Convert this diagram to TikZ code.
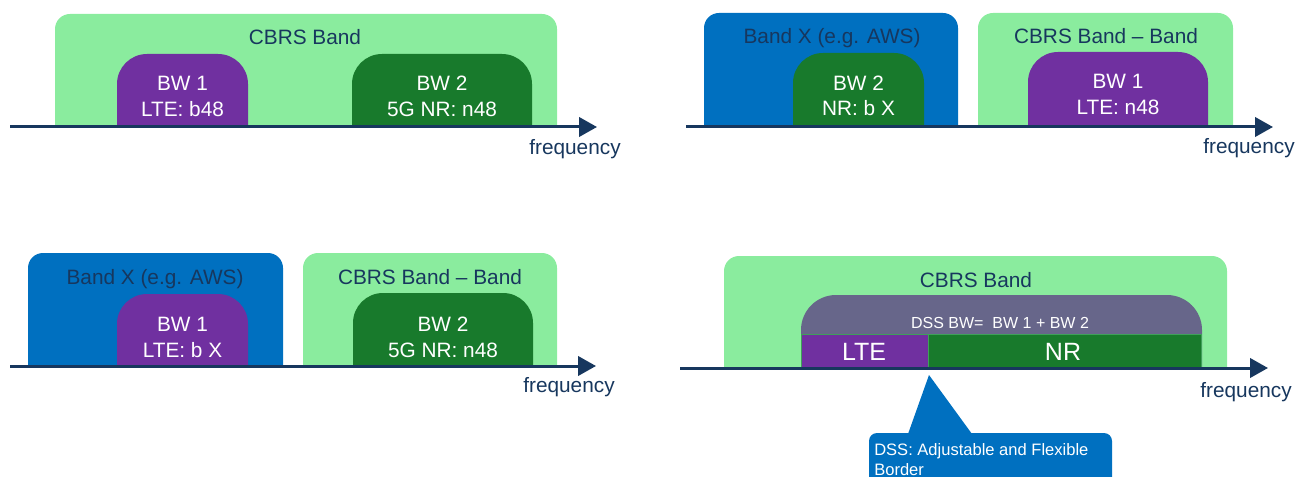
\documentclass[tikz,border=0pt]{standalone}
\usepackage{fontspec}
\setmainfont{Liberation Sans}
\usetikzlibrary{arrows.meta}
\definecolor{lgreen}{HTML}{8AEC9E}
\definecolor{bandblue}{HTML}{0070C0}
\definecolor{lpurple}{HTML}{7030A0}
\definecolor{dgreen}{HTML}{187A2C}
\definecolor{navy}{HTML}{17375E}
\definecolor{dssgray}{HTML}{67668A}
\definecolor{edgegreen}{HTML}{3FA05A}
\begin{document}
\begin{tikzpicture}[x=0.75pt,y=-0.75pt,
  lbl/.style={inner sep=0pt, anchor=base, font=\fontsize{15.6}{18}\selectfont, text=navy},
  wlbl/.style={lbl, text=white},
  small/.style={inner sep=0pt, anchor=base, font=\fontsize{12}{14}\selectfont, text=white},
  callfont/.style={inner sep=0pt, anchor=base west, font=\fontsize{12.4}{14}\selectfont, text=white},
  big/.style={inner sep=0pt, anchor=base, font=\fontsize{18.75}{22}\selectfont, text=white},
  axisline/.style={draw=navy, line width=2.25pt, -{Triangle[length=13.5pt,width=14.5pt]}},
  outerbox/.style={rounded corners=11.25pt},
  innerbox/.style={rounded corners=22.5pt}]
\useasboundingbox (0,0) rectangle (1298,477);

% ---------- top-left ----------
\fill[lgreen, outerbox] (55,127) -- (55,14) -- (557,14) -- (557,127);
\fill[lpurple, innerbox] (117,127) -- (117,54) -- (248,54) -- (248,127);
\fill[dgreen, innerbox] (352,127) -- (352,54) -- (532,54) -- (532,127);
\node[lbl] (tlcbrs) at (305,45) {CBRS Band};
\node[wlbl] (tlbw1a) at (182.5,91) {BW 1};
\node[wlbl] (tlbw1b) at (182.5,117) {LTE: b48};
\node[wlbl] (tlbw2a) at (442,91) {BW 2};
\node[wlbl] (tlbw2b) at (442,117) {5G NR: n48};
\coordinate (tls) at (10,127);
\coordinate (tle) at (597,127);
\draw[axisline] (tls) -- (tle);
\node[lbl] (tlfreq) at (575,155) {frequency};

% ---------- top-right ----------
\fill[bandblue, outerbox] (704,127) -- (704,13) -- (958,13) -- (958,127);
\fill[dgreen, innerbox] (793,127) -- (793,53) -- (924,53) -- (924,127);
\fill[lgreen, outerbox] (978,127) -- (978,13) -- (1233,13) -- (1233,127);
\fill[lpurple, innerbox] (1028,127) -- (1028,52) -- (1208,52) -- (1208,127);
\node[lbl] (trbandx) at (832,44) {Band X (e.g. AWS)};
\node[wlbl] (trbw2a) at (858.5,91) {BW 2};
\node[wlbl] (trbw2b) at (858.5,116) {NR: b X};
\node[lbl] (trcbrs) at (1106,44) {CBRS Band -- Band};
\node[wlbl] (trbw1a) at (1118,89) {BW 1};
\node[wlbl] (trbw1b) at (1118,115) {LTE: n48};
\coordinate (trs) at (686,127);
\coordinate (tre) at (1273,127);
\draw[axisline] (trs) -- (tre);
\node[lbl] (trfreq) at (1249,154) {frequency};

% ---------- bottom-left ----------
\fill[bandblue, outerbox] (28,366) -- (28,253) -- (283,253) -- (283,366);
\fill[lpurple, innerbox] (117,366) -- (117,294) -- (248,294) -- (248,366);
\fill[lgreen, outerbox] (303,366) -- (303,253) -- (557,253) -- (557,366);
\fill[dgreen, innerbox] (353,366) -- (353,293) -- (533,293) -- (533,366);
\node[lbl] (blbandx) at (155,284) {Band X (e.g. AWS)};
\node[wlbl] (blbw1a) at (182.5,331) {BW 1};
\node[wlbl] (blbw1b) at (182.5,357) {LTE: b X};
\node[lbl] (blcbrs) at (430,284) {CBRS Band -- Band};
\node[wlbl] (blbw2a) at (443,331) {BW 2};
\node[wlbl] (blbw2b) at (443,357) {5G NR: n48};
\coordinate (bls) at (10,366);
\coordinate (ble) at (596,366);
\draw[axisline] (bls) -- (ble);
\node[lbl] (blfreq) at (569,392) {frequency};

% ---------- bottom-right ----------
\fill[lgreen, outerbox] (724,368) -- (724,256) -- (1227,256) -- (1227,368);
\fill[dssgray, rounded corners=26.25pt] (801,368) -- (801,295) -- (1202,295) -- (1202,368);
\filldraw[fill=lpurple, draw=edgegreen, line width=0.6pt] (801,334) rectangle (928,368);
\filldraw[fill=dgreen, draw=edgegreen, line width=0.6pt] (928,334) rectangle (1201,368);
\node[lbl] (brcbrs) at (976,287) {CBRS Band};
\node[small] (brdss) at (1000,328) {DSS BW=\ \ BW 1 + BW 2};
\node[big] (brlte) at (864,360) {LTE};
\node[big] (brnr) at (1063,360) {NR};
\coordinate (brs) at (680,368);
\coordinate (bre) at (1268,368);
\draw[axisline] (brs) -- (bre);
\node[lbl] (brfreq) at (1246,397) {frequency};

% callout
\coordinate (tip) at (929,375);
\fill[bandblue] (908,434) -- (tip) -- (972,434) -- cycle;
\fill[bandblue, rounded corners=6pt] (869,477) -- (869,433) -- (1112,433) -- (1112,477);
\node[callfont] (call1) at (874,455) {DSS: Adjustable\ and\ Flexible};
\node[callfont] (call2) at (874,475) {Border};
\end{tikzpicture}
\end{document}
